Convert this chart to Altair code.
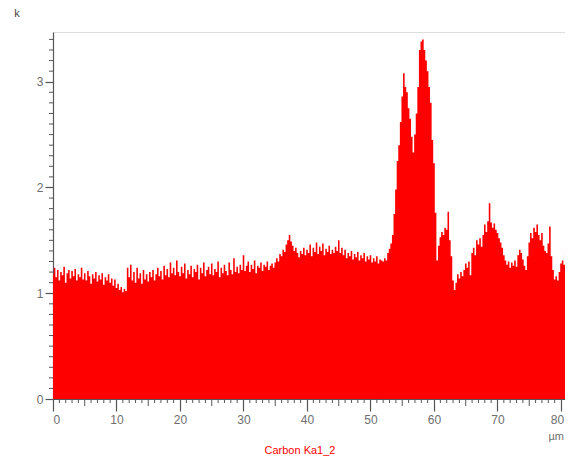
import altair as alt
import pandas as pd

# Carbon Ka1_2 line-scan counts (k), sampled every 0.25 µm from 0 µm
x_step = 0.25
counts_k = [
    # 0.00 - 4.75
    1.18, 1.24, 1.15, 1.22, 1.12, 1.20, 1.17, 1.25, 1.10, 1.19, 1.22, 1.14, 1.21, 1.16, 1.23, 1.12, 1.18, 1.15, 1.24, 1.13,
    # 5.00 - 9.75
    1.19, 1.12, 1.21, 1.16, 1.09, 1.18, 1.14, 1.20, 1.11, 1.17, 1.13, 1.19, 1.08, 1.15, 1.12, 1.18, 1.10, 1.14, 1.07, 1.13,
    # 10.00 - 14.75
    1.05, 1.09, 1.03, 1.06, 1.01, 1.04, 1.02, 1.24, 1.15, 1.27, 1.12, 1.20, 1.10, 1.24, 1.14, 1.19, 1.09, 1.22, 1.13, 1.18,
    # 15.00 - 19.75
    1.11, 1.20, 1.15, 1.22, 1.12, 1.18, 1.24, 1.16, 1.21, 1.13, 1.26, 1.17, 1.23, 1.15, 1.29, 1.19, 1.24, 1.17, 1.31, 1.20,
    # 20.00 - 24.75
    1.16, 1.25, 1.19, 1.28, 1.14, 1.22, 1.18, 1.26, 1.15, 1.23, 1.20, 1.27, 1.13, 1.24, 1.19, 1.29, 1.16, 1.22, 1.25, 1.18,
    # 25.00 - 29.75
    1.28, 1.17, 1.23, 1.20, 1.30, 1.15, 1.24, 1.19, 1.27, 1.21, 1.17, 1.29, 1.22, 1.18, 1.33, 1.20, 1.25, 1.19, 1.27, 1.22,
    # 30.00 - 34.75
    1.36, 1.21, 1.26, 1.30, 1.20, 1.27, 1.23, 1.31, 1.19, 1.26, 1.24, 1.29, 1.21, 1.27, 1.25, 1.30, 1.22, 1.26, 1.28, 1.24,
    # 35.00 - 39.75
    1.29, 1.33, 1.30, 1.37, 1.35, 1.41, 1.39, 1.46, 1.50, 1.55, 1.49, 1.45, 1.40, 1.43, 1.38, 1.34, 1.40, 1.37, 1.43, 1.36,
    # 40.00 - 44.75
    1.41, 1.38, 1.46, 1.35, 1.43, 1.39, 1.48, 1.37, 1.44, 1.40, 1.47, 1.36, 1.42, 1.39, 1.45, 1.37, 1.41, 1.38, 1.44, 1.40,
    # 45.00 - 49.75
    1.50, 1.38, 1.43, 1.36, 1.41, 1.33, 1.38, 1.35, 1.40, 1.32, 1.37, 1.34, 1.39, 1.31, 1.36, 1.33, 1.38, 1.30, 1.35, 1.32,
    # 50.00 - 54.75
    1.36, 1.29, 1.33, 1.30, 1.35, 1.28, 1.32, 1.31, 1.30, 1.33, 1.31, 1.38, 1.42, 1.47, 1.55, 1.75, 1.98, 2.25, 2.40, 2.62,
    # 55.00 - 59.75
    2.86, 3.08, 2.95, 2.90, 2.75, 2.65, 2.48, 2.33, 2.50, 2.70, 2.95, 3.30, 3.38, 3.40, 3.30, 3.20, 3.10, 2.95, 2.80, 2.45,
    # 60.00 - 64.75
    2.23, 1.76, 1.31, 1.45, 1.53, 1.58, 1.55, 1.62, 1.60, 1.77, 1.50, 1.35, 1.12, 1.03, 1.10, 1.18, 1.14, 1.20, 1.16, 1.22,
    # 65.00 - 69.75
    1.28, 1.24, 1.30, 1.17, 1.38, 1.43, 1.36, 1.50, 1.46, 1.52, 1.44, 1.55, 1.65, 1.58, 1.68, 1.85, 1.67, 1.62, 1.66, 1.60,
    # 70.00 - 74.75
    1.57, 1.52, 1.48, 1.43, 1.36, 1.31, 1.27, 1.30, 1.24, 1.29, 1.26, 1.31, 1.25, 1.36, 1.41, 1.38, 1.32, 1.26, 1.22, 1.35,
    # 75.00 - 79.75
    1.48, 1.57, 1.52, 1.62, 1.58, 1.65, 1.55, 1.50, 1.57, 1.45, 1.40, 1.38, 1.47, 1.63, 1.35, 1.22, 1.13, 1.16, 1.12, 1.20,
    # 80.00 - 82.00
    1.28, 1.31, 1.27, 1.40, 1.53, 1.48, 1.41, 1.52, 1.45,
]

x_major_ticks = [0, 10, 20, 30, 40, 50, 60, 70, 80]
x_mid_ticks = [5, 15, 25, 35, 45, 55, 65, 75]
x_minor_ticks = [v for v in range(0, 81) if v % 5 != 0]
y_major_ticks = [0, 1, 2, 3]
y_minor_ticks = [round(i * 0.1, 1) for i in range(0, 35) if i % 10 != 0]

x_domain = [0, 80.63]
y_domain = [0, 3.47]

W, H = 512, 367
AXIS_COLOR = "#555555"
LABEL_COLOR = "#6e6e6e"
FONT = "Liberation Sans"

df = pd.DataFrame({"x": [i * x_step for i in range(len(counts_k))], "y": counts_k})

xscale = alt.Scale(domain=x_domain, nice=False, zero=False)
yscale = alt.Scale(domain=y_domain, nice=False, zero=False)

area = alt.Chart(df).mark_area(color="#ff0000", interpolate="step", clip=True).encode(
    x=alt.X("x:Q", scale=xscale,
            axis=alt.Axis(values=x_major_ticks, title=None, grid=False, tickSize=12,
                          domainColor=AXIS_COLOR, tickColor=AXIS_COLOR, labelColor=LABEL_COLOR,
                          labelFont=FONT, labelFontSize=12, labelPadding=3, format="d",
                          labelOffset={"condition": {"test": "datum.value == 80", "value": -4}, "value": 0},
                          domainWidth=1.2, tickWidth=1.2)),
    y=alt.Y("y:Q", scale=yscale,
            axis=alt.Axis(values=y_major_ticks, title=None, grid=False, tickSize=8,
                          domainColor=AXIS_COLOR, tickColor=AXIS_COLOR, labelColor=LABEL_COLOR,
                          labelFont=FONT, labelFontSize=12, labelPadding=2, format="d",
                          domainWidth=1.2, tickWidth=1.2)),
)

xminor = alt.Chart(pd.DataFrame({"t": x_minor_ticks})).mark_rule(
    color=AXIS_COLOR, strokeWidth=1).encode(
    x=alt.X("t:Q", scale=xscale), y=alt.value(H), y2=alt.value(H + 4))

xmid = alt.Chart(pd.DataFrame({"t": x_mid_ticks})).mark_rule(
    color=AXIS_COLOR, strokeWidth=1).encode(
    x=alt.X("t:Q", scale=xscale), y=alt.value(H), y2=alt.value(H + 7))

yminor = alt.Chart(pd.DataFrame({"t": y_minor_ticks})).mark_rule(
    color=AXIS_COLOR, strokeWidth=1).encode(
    y=alt.Y("t:Q", scale=yscale), x=alt.value(-4), x2=alt.value(0))

def label(txt, x, y, color=LABEL_COLOR, size=12, align="center"):
    return alt.Chart(pd.DataFrame({"t": [txt]})).mark_text(
        color=color, font=FONT, fontSize=size, align=align, baseline="middle").encode(
        text="t:N", x=alt.value(x), y=alt.value(y))

k_label = label("k", -36, -18, color="#444444", size=11)
um_label = label("µm", 511, 405, size=11, align="right")
title_label = label("Carbon Ka1_2", 247, 419, color="#ff0000", size=11)

chart = alt.layer(area, xminor, xmid, yminor, k_label, um_label, title_label).properties(
    width=W, height=H,
    autosize=alt.AutoSizeParams(type="none"),
    padding={"left": 45, "top": 24, "right": 0, "bottom": 58},
).configure_view(stroke=None).configure(background="white")

chart.save("out.html", embed_options={"renderer": "svg", "actions": False})
